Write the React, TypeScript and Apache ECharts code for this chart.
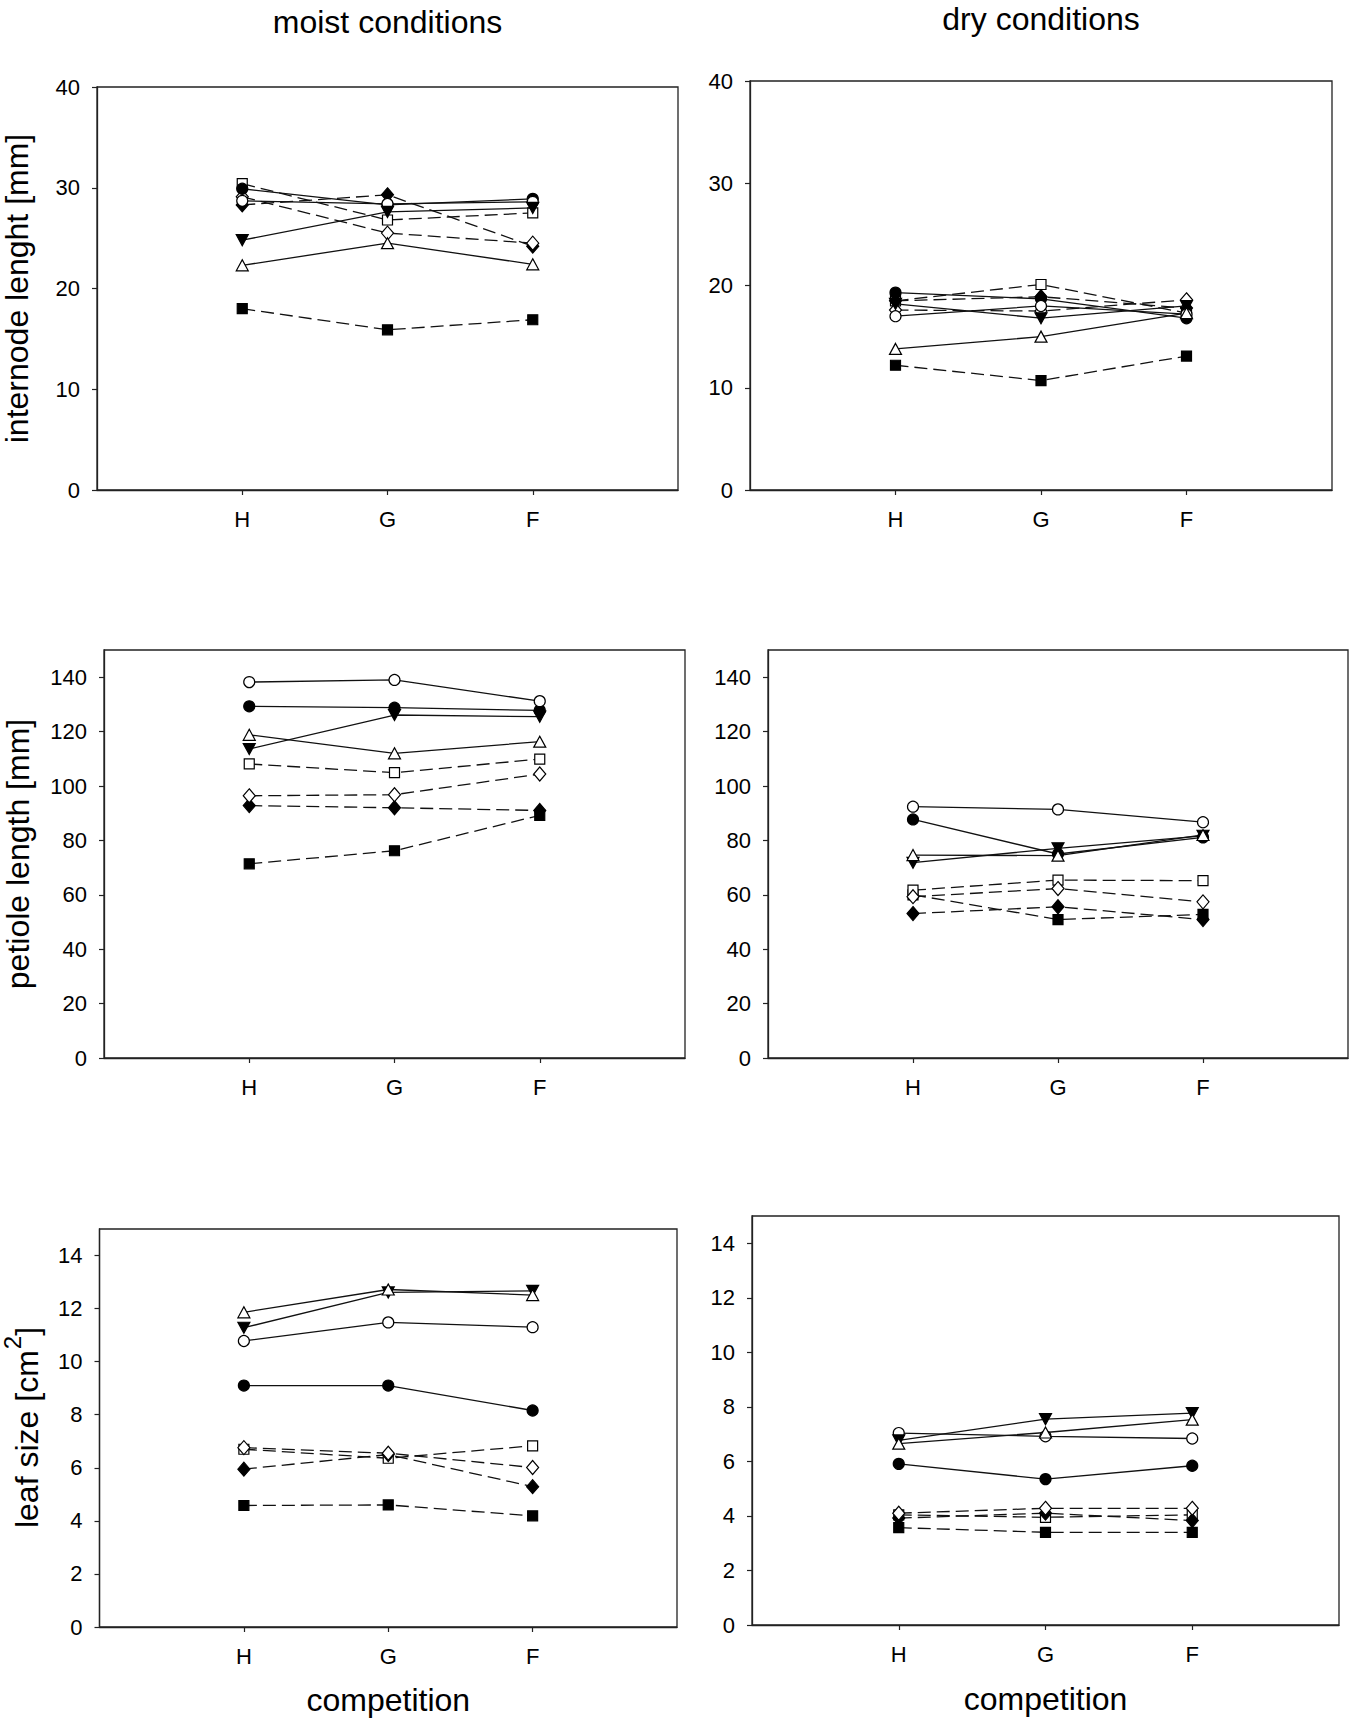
import React, { useEffect, useRef } from "react";
import * as echarts from "echarts";

// ---------- data ----------
const categories = ["H", "G", "F"];
// series order: filled circle, open circle, filled down-triangle, open up-triangle,
// filled square, open square, filled diamond, open diamond
const groups = [
  "filled circle",
  "open circle",
  "filled down-triangle",
  "open up-triangle",
  "filled square",
  "open square",
  "filled diamond",
  "open diamond",
];

const internodeMoist = [
  [29.9, 28.3, 28.9],
  [28.7, 28.4, 28.6],
  [24.8, 27.6, 28.0],
  [22.3, 24.5, 22.4],
  [18.0, 15.9, 16.9],
  [30.4, 26.8, 27.5],
  [28.3, 29.3, 24.2],
  [29.1, 25.5, 24.5],
];
const internodeDry = [
  [19.3, 18.7, 16.8],
  [17.0, 18.0, 17.2],
  [18.2, 16.8, 18.0],
  [13.8, 15.0, 17.3],
  [12.2, 10.7, 13.1],
  [18.5, 20.1, 17.3],
  [18.5, 18.9, 17.8],
  [17.6, 17.5, 18.6],
];
const petioleMoist = [
  [129.3, 128.8, 127.8],
  [138.2, 139.0, 131.2],
  [113.6, 126.1, 125.5],
  [118.8, 112.0, 116.3],
  [71.4, 76.2, 89.2],
  [108.1, 104.9, 109.9],
  [92.8, 92.0, 91.0],
  [96.4, 96.8, 104.4],
];
const petioleDry = [
  [87.7, 75.0, 81.1],
  [92.4, 91.4, 86.7],
  [71.8, 77.1, 81.7],
  [74.6, 74.4, 82.0],
  [60.0, 50.9, 52.8],
  [61.7, 65.4, 65.2],
  [53.1, 55.6, 50.9],
  [59.3, 62.3, 57.4],
];
const leafMoist = [
  [9.1, 9.1, 8.16],
  [10.78, 11.48, 11.3],
  [11.28, 12.61, 12.67],
  [11.86, 12.72, 12.51],
  [4.58, 4.6, 4.19],
  [6.7, 6.36, 6.83],
  [5.95, 6.5, 5.29],
  [6.76, 6.55, 6.01],
];
const leafDry = [
  [5.91, 5.35, 5.84],
  [7.04, 6.92, 6.84],
  [6.77, 7.55, 7.77],
  [6.65, 7.06, 7.53],
  [3.57, 3.4, 3.4],
  [4.04, 3.95, 4.04],
  [3.92, 4.1, 3.83],
  [4.1, 4.28, 4.28],
];

const internodeTicks = [0, 10, 20, 30, 40];
const petioleTicks = [0, 20, 40, 60, 80, 100, 120, 140];
const leafTicks = [0, 2, 4, 6, 8, 10, 12, 14];

const columnTitles = ["moist conditions", "dry conditions"];
const xAxisTitle = "competition";
const yTitleInternode = "internode lenght [mm]";
const yTitlePetiole = "petiole length [mm]";

// ---------- styling / layout ----------
const FONT = '"Liberation Sans", Arial, Helvetica, sans-serif';
const INK = "#000";
const FRAME = "#222";

const markerStyles = [
  { symbol: "circle", size: 11, filled: true, dashed: false, rotate: 0 },
  { symbol: "circle", size: 11, filled: false, dashed: false, rotate: 0 },
  { symbol: "triangle", size: [12, 11], filled: true, dashed: false, rotate: 180 },
  { symbol: "triangle", size: [12, 11], filled: false, dashed: false, rotate: 0 },
  { symbol: "rect", size: 10, filled: true, dashed: true, rotate: 0 },
  { symbol: "rect", size: 10, filled: false, dashed: true, rotate: 0 },
  { symbol: "diamond", size: [12, 14], filled: true, dashed: true, rotate: 0 },
  { symbol: "diamond", size: [12, 14], filled: false, dashed: true, rotate: 0 },
];

const panels = [
  { data: internodeMoist, max: 40, ticks: internodeTicks, grid: { left: 97, top: 87, width: 581, height: 403 } },
  { data: internodeDry, max: 40, ticks: internodeTicks, grid: { left: 750, top: 81, width: 582, height: 409 } },
  { data: petioleMoist, max: 150, ticks: petioleTicks, grid: { left: 104, top: 650, width: 581, height: 408 } },
  { data: petioleDry, max: 150, ticks: petioleTicks, grid: { left: 768, top: 650, width: 580, height: 408 } },
  { data: leafMoist, max: 15, ticks: leafTicks, grid: { left: 99.5, top: 1229, width: 577.5, height: 398 } },
  { data: leafDry, max: 15, ticks: leafTicks, grid: { left: 752, top: 1216, width: 587, height: 409 } },
];

function measure(text: string, size: number): number {
  const ctx = document.createElement("canvas").getContext("2d");
  if (!ctx) return text.length * size * 0.5;
  ctx.font = `${size}px ${FONT}`;
  return ctx.measureText(text).width;
}

function buildOption() {
  const axisCats = [" ", ...categories, "  "];
  const grids: any[] = [];
  const xAxes: any[] = [];
  const yAxes: any[] = [];
  const series: any[] = [];

  panels.forEach((p, pi) => {
    grids.push({
      ...p.grid,
      show: true,
      borderColor: FRAME,
      borderWidth: 1.3,
      backgroundColor: "transparent",
      containLabel: false,
    });
    xAxes.push({
      type: "category",
      gridIndex: pi,
      data: axisCats,
      boundaryGap: false,
      axisLine: { show: true, lineStyle: { color: FRAME, width: 1.3 } },
      axisTick: {
        show: true,
        length: 5,
        interval: (i: number) => i >= 1 && i <= categories.length,
        lineStyle: { color: FRAME, width: 1.2 },
      },
      axisLabel: {
        show: true,
        interval: (i: number) => i >= 1 && i <= categories.length,
        margin: 18,
        fontSize: 22,
        fontFamily: FONT,
        color: INK,
      },
      splitLine: { show: false },
    });
    yAxes.push({
      type: "value",
      gridIndex: pi,
      min: 0,
      max: p.max,
      interval: p.ticks[1] - p.ticks[0],
      axisLine: { show: true, lineStyle: { color: FRAME, width: 1.3 } },
      axisTick: {
        show: true,
        length: 5,
        customValues: p.ticks,
        lineStyle: { color: FRAME, width: 1.2 },
      },
      axisLabel: {
        show: true,
        customValues: p.ticks,
        margin: 17,
        fontSize: 22,
        fontFamily: FONT,
        color: INK,
      },
      splitLine: { show: false },
    });

    p.data.forEach((vals, gi) => {
      const m = markerStyles[gi];
      series.push({
        type: "line",
        name: groups[gi],
        xAxisIndex: pi,
        yAxisIndex: pi,
        data: vals.map((v, i) => [i + 1, v]),
        symbol: m.symbol,
        symbolSize: m.size,
        symbolRotate: m.rotate,
        showSymbol: true,
        showAllSymbol: true,
        silent: true,
        z: m.dashed ? 2 : 3,
        lineStyle: {
          color: "#111",
          width: 1.3,
          type: m.dashed ? [13, 6] : "solid",
        },
        itemStyle: {
          color: m.filled ? "#000" : "#fff",
          borderColor: "#000",
          borderWidth: 1.2,
          opacity: 1,
        },
        emphasis: { disabled: true },
      });
    });
  });

  const titleStyle = (text: string) => ({
    text,
    fontSize: 32,
    fontFamily: FONT,
    fill: INK,
    align: "center",
    verticalAlign: "middle",
  });

  // leaf size label with superscript
  const mainPart = "leaf size [cm";
  const supPart = "2";
  const endPart = "]";
  const w1 = measure(mainPart, 32);
  const w2 = measure(supPart, 24);
  const w3 = measure(endPart, 32);
  const x0 = -(w1 + w2 + w3) / 2;

  const centerX = (g: any) => g.left + g.width / 2;
  const centerY = (g: any) => g.top + g.height / 2;

  const graphic: any[] = [
    { type: "text", x: centerX(panels[0].grid), y: 22, style: titleStyle(columnTitles[0]), silent: true },
    { type: "text", x: centerX(panels[1].grid), y: 19, style: titleStyle(columnTitles[1]), silent: true },
    { type: "text", x: centerX(panels[4].grid), y: 1700, style: titleStyle(xAxisTitle), silent: true },
    { type: "text", x: centerX(panels[5].grid), y: 1699, style: titleStyle(xAxisTitle), silent: true },
    {
      type: "text",
      x: 17,
      y: centerY(panels[0].grid),
      rotation: Math.PI / 2,
      style: titleStyle(yTitleInternode),
      silent: true,
    },
    {
      type: "text",
      x: 18,
      y: centerY(panels[2].grid),
      rotation: Math.PI / 2,
      style: titleStyle(yTitlePetiole),
      silent: true,
    },
    {
      type: "group",
      x: 27,
      y: centerY(panels[4].grid),
      rotation: Math.PI / 2,
      silent: true,
      children: [
        {
          type: "text",
          x: x0,
          y: 0,
          style: { text: mainPart, fontSize: 32, fontFamily: FONT, fill: INK, align: "left", verticalAlign: "middle" },
        },
        {
          type: "text",
          x: x0 + w1 + 1,
          y: -15,
          style: { text: supPart, fontSize: 24, fontFamily: FONT, fill: INK, align: "left", verticalAlign: "middle" },
        },
        {
          type: "text",
          x: x0 + w1 + w2 + 1,
          y: 0,
          style: { text: endPart, fontSize: 32, fontFamily: FONT, fill: INK, align: "left", verticalAlign: "middle" },
        },
      ],
    },
  ];

  return {
    animation: false,
    backgroundColor: "#fff",
    textStyle: { fontFamily: FONT },
    grid: grids,
    xAxis: xAxes,
    yAxis: yAxes,
    series,
    graphic,
  };
}

export default function App() {
  const ref = useRef<HTMLDivElement | null>(null);
  useEffect(() => {
    if (!ref.current) return;
    const chart = echarts.init(ref.current, undefined, { renderer: "svg" });
    chart.setOption(buildOption() as any);
    return () => {
      chart.dispose();
    };
  }, []);
  return (
    <div
      ref={ref}
      style={{ position: "absolute", left: 0, top: 0, width: 1350, height: 1719, background: "#fff" }}
    />
  );
}
